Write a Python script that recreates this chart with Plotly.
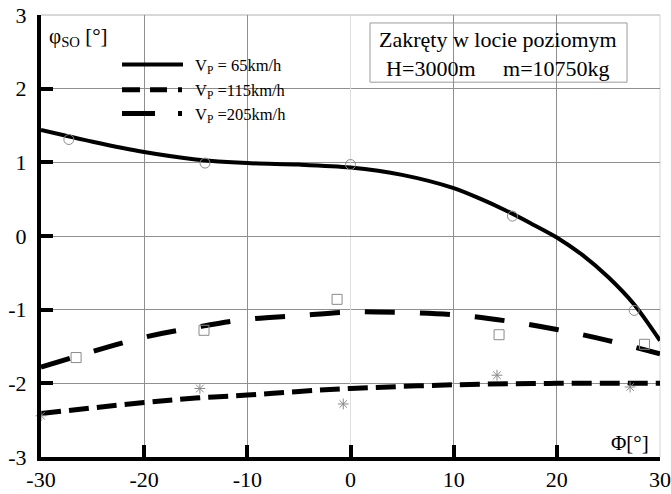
import plotly.graph_objects as go

# Bank angle Φ [deg] and control deflection φSO [deg] for three speeds
phi_curve_65 = [-30, -25, -20, -15, -10, -5, 0, 5, 10, 12.5, 15, 17.5, 20, 22.5, 25, 27.5, 30]
so_curve_65 = [1.44, 1.28, 1.14, 1.04, 0.99, 0.97, 0.93, 0.83, 0.65, 0.51, 0.35, 0.17, -0.02,
               -0.26, -0.56, -0.93, -1.42]

phi_curve_205 = [-30, -20, -15, -10, -5, 0, 2.5, 10, 15, 20, 25, 30]
so_curve_205 = [-1.78, -1.375, -1.24, -1.13, -1.08, -1.03, -1.03, -1.07, -1.15, -1.27, -1.42, -1.60]

phi_curve_115 = [-30, -20, -15, -10, -5, 0, 10, 20, 30]
so_curve_115 = [-2.41, -2.26, -2.20, -2.16, -2.11, -2.07, -2.02, -2.00, -2.00]

# Measured points
phi_meas_65 = [-27.3, -14.1, 0.0, 15.7, 27.5]
so_meas_65 = [1.31, 0.99, 0.97, 0.27, -1.01]

phi_meas_205 = [-26.6, -14.2, -1.3, 14.4, 28.5]
so_meas_205 = [-1.65, -1.28, -0.86, -1.34, -1.47]

phi_meas_115 = [-30.0, -14.6, -0.7, 14.2, 27.1]
so_meas_115 = [-2.44, -2.07, -2.28, -1.89, -2.05]

legend_labels = ["V<sub>P</sub> = 65km/h", "V<sub>P</sub> =115km/h", "V<sub>P</sub> =205km/h"]
x_ticks = [-30, -20, -10, 0, 10, 20, 30]
y_ticks = [-3, -2, -1, 0, 1, 2, 3]

SERIF = "Liberation Serif"
GRID = "#8f8f8f"
MARK = "#8a8a8a"
NB = "\u00a0"

fig = go.Figure()

fig.add_trace(go.Scatter(x=phi_curve_65, y=so_curve_65, mode="lines",
                         line=dict(color="black", width=4, shape="spline", smoothing=0.8),
                         showlegend=False))
fig.add_trace(go.Scatter(x=phi_curve_205, y=so_curve_205, mode="lines",
                         line=dict(color="black", width=5, shape="spline", dash="30px,25px"),
                         showlegend=False))
fig.add_trace(go.Scatter(x=phi_curve_115, y=so_curve_115, mode="lines",
                         line=dict(color="black", width=5, shape="spline", dash="20px,8px"),
                         showlegend=False))

fig.add_trace(go.Scatter(x=phi_meas_65, y=so_meas_65, mode="markers",
                         marker=dict(symbol="circle-open", size=10, color=MARK, line=dict(width=1)),
                         showlegend=False, cliponaxis=False))
fig.add_trace(go.Scatter(x=phi_meas_205, y=so_meas_205, mode="markers",
                         marker=dict(symbol="square-open", size=10, color=MARK, line=dict(width=1)),
                         showlegend=False, cliponaxis=False))
fig.add_trace(go.Scatter(x=phi_meas_115, y=so_meas_115, mode="markers",
                         marker=dict(symbol="asterisk-open", size=9, color=MARK, line=dict(width=1)),
                         showlegend=False, cliponaxis=False))

shapes = []
# white panels behind the key and the caption (above the grid, under the data)
shapes.append(dict(type="rect", xref="paper", yref="paper", x0=0.108, x1=0.400, y0=0.720, y1=0.928,
                   fillcolor="white", line=dict(width=0), layer="between"))
shapes.append(dict(type="rect", xref="paper", yref="paper", x0=0.5315, x1=0.9467, y0=0.848, y1=0.982,
                   fillcolor="white", line=dict(color="#9a9a9a", width=1), layer="between"))
# right and top frame lines
shapes.append(dict(type="line", xref="paper", yref="paper", x0=1, x1=1, y0=0, y1=1,
                   line=dict(color="#d4d4d4", width=1), layer="between"))
shapes.append(dict(type="line", xref="paper", yref="paper", x0=0, x1=1, y0=1, y1=1,
                   line=dict(color="#b0b0b0", width=1), layer="between"))

# key samples
key_y = [0.888, 0.831, 0.777]
key_dash = ["solid", "18px,10px,17px,11px,4px,200px", "33px,23px,4px,200px"]
key_w = [4, 5, 5]
for yy, dd, ww in zip(key_y, key_dash, key_w):
    shapes.append(dict(type="line", xref="paper", yref="paper", x0=0.1309, x1=0.2294, y0=yy, y1=yy,
                       line=dict(color="black", width=ww, dash=dd), layer="above"))

annotations = []
for yy, txt in zip(key_y, legend_labels):
    annotations.append(dict(xref="paper", yref="paper", x=0.2456, y=yy - 0.004, text=txt,
                            showarrow=False, xanchor="left", yanchor="middle",
                            font=dict(family=SERIF, size=16.5, color="black")))

annotations.append(dict(xref="paper", yref="paper", x=0.739, y=0.912,
                        text="Zakręty w locie poziomym<br>H=3000m" + NB * 5 + "m=10750kg",
                        showarrow=False, xanchor="center", yanchor="middle", align="center",
                        font=dict(family=SERIF, size=22, color="black")))
annotations.append(dict(xref="paper", yref="paper", x=0.0097, y=0.950,
                        text="φ<sub>SO</sub> [°]", showarrow=False, xanchor="left", yanchor="middle",
                        font=dict(family=SERIF, size=21, color="black")))
annotations.append(dict(xref="paper", yref="paper", x=0.986, y=0.032,
                        text="Φ[°]", showarrow=False, xanchor="right", yanchor="middle",
                        font=dict(family=SERIF, size=21, color="black")))

fig.update_layout(
    width=671, height=494,
    margin=dict(l=41, r=11, t=15, b=37, autoexpand=False),
    paper_bgcolor="white", plot_bgcolor="white",
    shapes=shapes, annotations=annotations,
    showlegend=False,
    font=dict(family=SERIF, color="black"),
)

fig.update_xaxes(range=[-30, 30], tickvals=x_ticks, ticktext=[str(v) for v in x_ticks],
                 automargin=False,
                 showgrid=True, gridcolor=GRID, gridwidth=1,
                 zeroline=True, zerolinecolor="#dedede", zerolinewidth=1,
                 showline=True, linecolor="black", linewidth=4,
                 ticks="inside", ticklen=12, tickwidth=4, tickcolor="black",
                 tickfont=dict(family=SERIF, size=22, color="black"),
                 ticklabelstandoff=0)
fig.update_yaxes(range=[-3, 3], tickvals=y_ticks, ticktext=[str(v) for v in y_ticks],
                 automargin=False,
                 showgrid=True, gridcolor=GRID, gridwidth=1,
                 zeroline=True, zerolinecolor=GRID, zerolinewidth=1,
                 showline=True, linecolor="black", linewidth=4,
                 ticks="inside", ticklen=12, tickwidth=4, tickcolor="black",
                 tickfont=dict(family=SERIF, size=22, color="black"),
                 ticklabelstandoff=6)

fig.write_html("out.html")
